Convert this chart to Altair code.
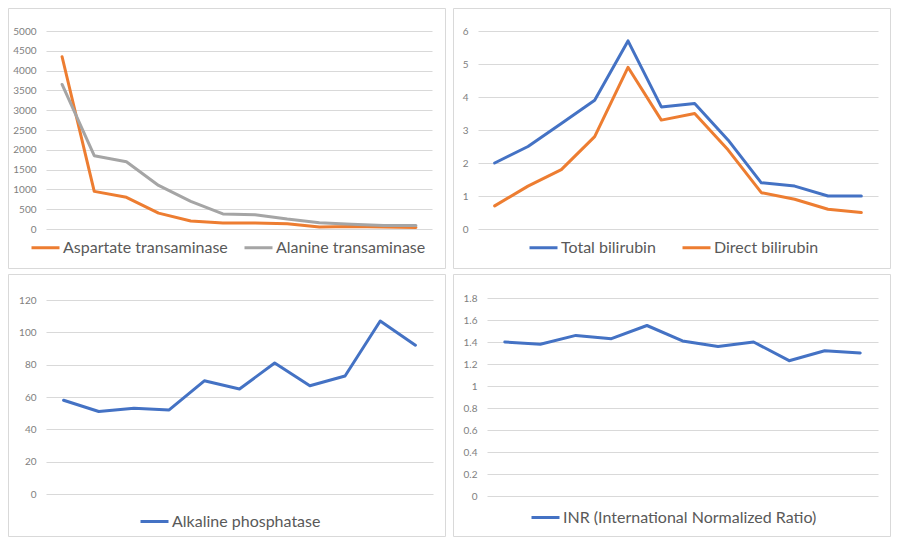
import altair as alt
import pandas as pd

# ---------------- data ----------------
idx12 = list(range(1, 13))
idx11 = list(range(1, 12))

aspartate = [4350, 950, 800, 400, 200, 150, 150, 130, 50, 65, 50, 40]
alanine = [3650, 1850, 1700, 1100, 700, 380, 360, 250, 160, 120, 90, 90]

total_bili = [2.0, 2.5, 3.2, 3.9, 5.7, 3.7, 3.8, 2.7, 1.4, 1.3, 1.0, 1.0]
direct_bili = [0.7, 1.3, 1.8, 2.8, 4.9, 3.3, 3.5, 2.4, 1.1, 0.9, 0.6, 0.5]

alk_phos = [58, 51, 53, 52, 70, 65, 81, 67, 73, 107, 92]
inr = [1.40, 1.38, 1.46, 1.43, 1.55, 1.41, 1.36, 1.40, 1.23, 1.32, 1.30]

ticks_tl = [0, 500, 1000, 1500, 2000, 2500, 3000, 3500, 4000, 4500, 5000]
ticks_tr = [0, 1, 2, 3, 4, 5, 6]
ticks_bl = [0, 20, 40, 60, 80, 100, 120]
ticks_br = [0, 0.2, 0.4, 0.6, 0.8, 1, 1.2, 1.4, 1.6, 1.8]

names_tl = ["Aspartate transaminase", "Alanine transaminase"]
names_tr = ["Total bilirubin", "Direct bilirubin"]
names_bl = ["Alkaline phosphatase"]
names_br = ["INR (International Normalized Ratio)"]

BLUE = "#4472C4"
ORANGE = "#ED7D31"
GRAY = "#A5A5A5"

FONT = "Lato"
GRID = "#d9d9d9"
BORDER = "#d9d9d9"


def make_df(idx, names, series):
    rows = []
    for name, vals in zip(names, series):
        for t, v in zip(idx, vals):
            rows.append({"t": t, "v": v, "s": name})
    return pd.DataFrame(rows)


def panel(df, names, colors, ticks, pw, ph, left, right, top, bottom,
          legend_x, legend_dy, col_pad):
    w = pw - left - right
    h = ph - top - bottom
    line = alt.Chart(df).mark_line(
        strokeWidth=3, strokeJoin="round", strokeCap="round"
    ).encode(
        x=alt.X("t:O", axis=None, scale=alt.Scale(type="point", padding=0.5)),
        y=alt.Y(
            "v:Q",
            scale=alt.Scale(domain=[ticks[0], ticks[-1]], nice=False, zero=True),
            axis=alt.Axis(
                values=ticks, format=".6~g", grid=True, gridColor=GRID,
                gridWidth=1, domain=False, ticks=False, labelPadding=10,
                labelFont=FONT, labelFontSize=10, labelColor="#808080",
                title=None,
            ),
        ),
        color=alt.Color(
            "s:N",
            scale=alt.Scale(domain=names, range=colors),
            legend=alt.Legend(
                orient="none", legendX=legend_x, legendY=h + legend_dy,
                direction="horizontal", title=None, symbolType="stroke",
                symbolSize=784, symbolStrokeWidth=3, labelFont=FONT,
                labelFontSize=16, labelColor="#595959", labelOffset=2,
                labelLimit=400, columnPadding=col_pad, padding=0,
            ),
        ),
    )
    border = alt.Chart(pd.DataFrame({"a": [0]})).mark_rect(
        fillOpacity=0, stroke=BORDER, strokeWidth=1, clip=False
    ).encode(
        x=alt.value(-left + 0.5),
        x2=alt.value(w + right - 0.5),
        y=alt.value(-top + 0.5),
        y2=alt.value(h + bottom - 0.5),
    )
    return alt.layer(border, line).properties(width=w, height=h)


tl = panel(make_df(idx12, names_tl, [aspartate, alanine]), names_tl,
           [ORANGE, GRAY], ticks_tl, 438, 261, 38, 14, 23, 40, -16, 3, 10)
tr = panel(make_df(idx12, names_tr, [total_bili, direct_bili]), names_tr,
           [BLUE, ORANGE], ticks_tr, 438, 261, 25, 13, 23, 40, 50, 3, 20)
bl = panel(make_df(idx11, names_bl, [alk_phos]), names_bl,
           [BLUE], ticks_bl, 438, 263, 38, 13, 26, 43, 93, 12, 10)
br = panel(make_df(idx11, names_br, [inr]), names_br,
           [BLUE], ticks_br, 438, 263, 34, 13, 24, 41, 43, 6, 10)

chart = alt.concat(
    tl, tr, bl, br, columns=2,
    spacing=alt.RowColnumber(row=5, column=7),
).resolve_scale(color="independent").resolve_legend(
    color="independent"
).properties(
    padding=0, background="white", align="none"
).configure_view(strokeWidth=0)

chart.save("out.html", embed_options={"renderer": "svg", "actions": False})
